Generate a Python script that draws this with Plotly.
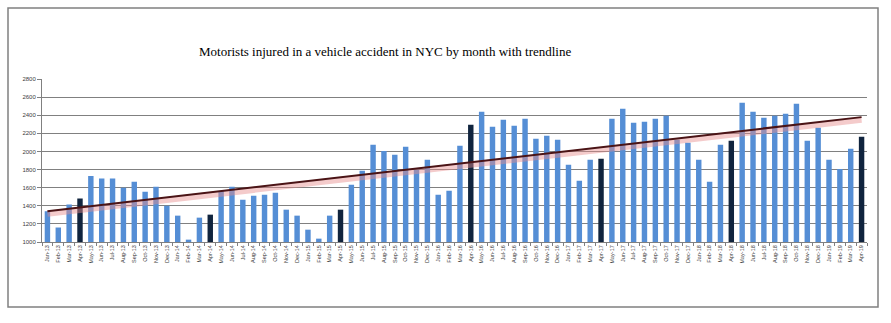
import numpy as np
import plotly.graph_objects as go

months = []
for yr in range(13, 20):
    for m in ["Jan", "Feb", "Mar", "Apr", "May", "Jun", "Jul", "Aug", "Sep", "Oct", "Nov", "Dec"]:
        months.append(f"{m}-{yr}")
months = months[:76]

injured = [
    1340, 1160, 1415, 1480, 1730, 1700, 1700, 1600, 1666, 1556, 1611, 1400,
    1291, 1026, 1269, 1302, 1563, 1611, 1467, 1512, 1523, 1545, 1357, 1291,
    1136, 1037, 1291, 1357, 1633, 1788, 2075, 2005, 1964, 2053, 1799, 1909,
    1523, 1567, 2064, 2296, 2439, 2274, 2351, 2285, 2362, 2141, 2174, 2130,
    1854, 1677, 1909, 1920, 2362, 2472, 2318, 2329, 2362, 2395, 2130, 2097,
    1909, 1666, 2075, 2119, 2539, 2439, 2373, 2395, 2417, 2528, 2119, 2263,
    1909, 1806, 2031, 2163,
]

title_text = "Motorists injured in a vehicle accident in NYC by month with trendline"
y_ticks = [1000, 1200, 1400, 1600, 1800, 2000, 2200, 2400, 2600, 2800]

BLUE = "#558ED5"
NAVY = "#10243E"
colors = [NAVY if m.startswith("Apr") else BLUE for m in months]

idx = np.arange(len(injured))
slope, intercept = np.polyfit(idx, injured, 1)
trend = slope * idx + intercept

fig = go.Figure()
fig.add_trace(go.Bar(x=months, y=injured, marker=dict(color=colors, line=dict(width=0)),
                     showlegend=False, hoverinfo="x+y"))
fig.add_trace(go.Scatter(x=months, y=trend - 28, mode="lines",
                         line=dict(color="rgba(230,140,140,0.45)", width=6),
                         showlegend=False, hoverinfo="skip"))
fig.add_trace(go.Scatter(x=months, y=trend, mode="lines",
                         line=dict(color="#4A1416", width=2),
                         showlegend=False, hoverinfo="skip"))

L, R, T, B = 42, 24, 79, 81
W, H = 891, 323
pw, ph = W - L - R, H - T - B
def px(x):
    return (x - L) / pw
def py(y):
    return (H - B - y) / ph

fig.update_layout(
    width=W, height=H,
    margin=dict(l=L, r=R, t=T, b=B, pad=0),
    paper_bgcolor="white", plot_bgcolor="white",
    bargap=0.5,
    font=dict(family="Liberation Sans, Arial, sans-serif", color="#404040"),
    xaxis=dict(type="category", tickangle=-90, tickfont=dict(size=5.5, color="#404040"),
               showgrid=False, showline=True, linecolor="#808080", linewidth=1,
               ticks="outside", ticklen=3, tickcolor="#808080", tickson="boundaries",
               fixedrange=True),
    yaxis=dict(range=[1000, 2800], tickvals=y_ticks, ticktext=[str(v) for v in y_ticks],
               tickfont=dict(size=6, color="#404040"),
               showgrid=True, gridcolor="#808080", gridwidth=1,
               showline=True, linecolor="#808080", linewidth=1,
               ticks="outside", ticklen=4, tickcolor="#808080", zeroline=False,
               fixedrange=True),
    shapes=[dict(type="rect", xref="paper", yref="paper",
                 x0=px(8), x1=px(878), y0=py(307), y1=py(8),
                 line=dict(color="#808080", width=1.5), fillcolor="rgba(0,0,0,0)", layer="below")],
    annotations=[dict(text=title_text, xref="paper", yref="paper", x=px(385), y=py(51),
                      xanchor="center", yanchor="middle", showarrow=False,
                      font=dict(family="Liberation Serif, DejaVu Serif, serif", size=13, color="#000000"))],
)

fig.write_html("out.html")
